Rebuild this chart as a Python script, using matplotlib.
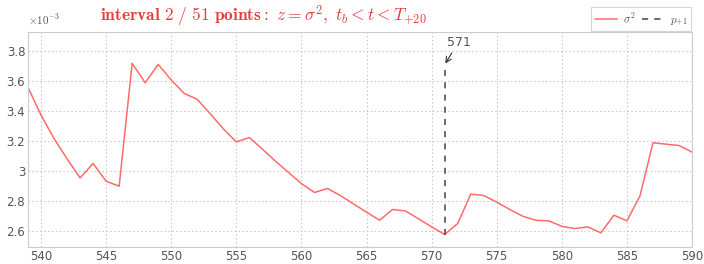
import matplotlib
matplotlib.use("Agg")
import matplotlib.pyplot as plt
from matplotlib.ticker import FuncFormatter, MultipleLocator
from matplotlib.lines import Line2D

# units of 1e-3
t = list(range(539, 591))
sigma2 = [3.556, 3.371, 3.215, 3.08, 2.953, 3.049, 2.931, 2.898, 3.716, 3.587,
          3.709, 3.605, 3.516, 3.476, 3.38, 3.28, 3.193, 3.222, 3.145, 3.065,
          2.99, 2.915, 2.856, 2.883, 2.835, 2.78, 2.725, 2.671, 2.743, 2.733,
          2.68, 2.627, 2.576, 2.649, 2.845, 2.836, 2.792, 2.743, 2.698, 2.671,
          2.667, 2.631, 2.616, 2.627, 2.587, 2.705, 2.667, 2.833, 3.187, 3.178,
          3.169, 3.125]
mark_t = 571
mark_top = 3.70

plt.rcParams['mathtext.fontset'] = 'cm'
plt.rcParams['font.family'] = ['DejaVu Sans']

fig = plt.figure(figsize=(7.04, 2.64), dpi=100)
ax = fig.add_axes([0.0398, 0.0644, 0.9432, 0.8156])

red = '#ff6b6b'
ax.plot(t, sigma2, color=red, lw=1.1)

y_mark = sigma2[t.index(mark_t)]
ax.plot([mark_t, mark_t], [y_mark, mark_top], color='#444444', lw=1.1,
        ls=(0, (4, 4)))
ax.annotate('', xy=(mark_t + 0.05, mark_top + 0.015), xytext=(mark_t + 0.55, 3.785),
            arrowprops=dict(arrowstyle='->', color='#333333', lw=0.8,
                            shrinkA=0, shrinkB=0))
ax.text(mark_t + 1.1, 3.852, str(mark_t), ha='center', va='center',
        fontsize=9, color='#555555')

ax.set_xlim(539, 590)
ax.set_ylim(2.493, 3.927)
ax.xaxis.set_major_locator(MultipleLocator(5))
ax.yaxis.set_major_locator(MultipleLocator(0.2))
ax.yaxis.set_major_formatter(FuncFormatter(lambda v, p: '%g' % round(v, 3)))
ax.grid(True, ls=(0, (1.5, 2)), color='#cccccc', lw=0.8)
for s in ax.spines.values():
    s.set_color('#cccccc')
ax.tick_params(colors='#cccccc', labelcolor='#555555', labelsize=8.5,
               length=0, pad=2)

fig.text(0.040, 0.905, r'$\times10^{-3}$', fontsize=8, color='#555555')
fig.text(0.142, 0.937,
         r'$\mathbf{interval\ 2\ /\ 51\ points:}\ z=\sigma^2,\ t_b<t<T_{+20}$',
         fontsize=12.5, color='#e83a3a', va='center')

handles = [Line2D([], [], color=red, lw=1.1),
           Line2D([], [], color='#444444', lw=1.1, ls=(0, (4, 4)))]
leg = ax.legend(handles, [r'$\sigma^2$', r'$p_{+1}$'], ncol=2, loc='lower right',
                bbox_to_anchor=(1.0, 1.0), fontsize=8, frameon=True,
                fancybox=False, borderaxespad=0.05, handlelength=2.0,
                columnspacing=0.6, handletextpad=0.5, borderpad=0.35)
leg.get_frame().set_edgecolor('#cccccc')
leg.get_frame().set_linewidth(0.8)
for txt in leg.get_texts():
    txt.set_color('#555555')

fig.savefig('out.png', dpi=100)
